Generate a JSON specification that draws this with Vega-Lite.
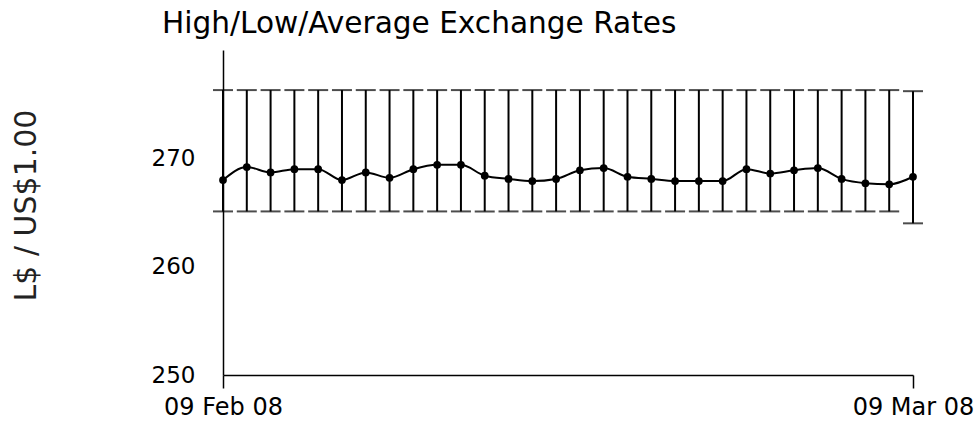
{
  "$schema": "https://vega.github.io/schema/vega-lite/v6.json",
  "autosize": {"type": "none"},
  "width": 690,
  "height": 325,
  "padding": {"left": 223, "top": 50, "right": 67, "bottom": 48},
  "background": "white",
  "config": {
    "view": {"stroke": null},
    "font": "DejaVu Sans",
    "axis": {"grid": false, "domainColor": "black", "domainWidth": 1.5, "labelColor": "black", "titleColor": "#222", "labelFont": "DejaVu Sans", "titleFont": "DejaVu Sans"}
  },
  "title": {
    "text": "High/Low/Average Exchange Rates",
    "anchor": "start",
    "frame": "group",
    "dx": -61,
    "offset": -13,
    "baseline": "alphabetic",
    "fontSize": 29.6,
    "fontWeight": "normal",
    "font": "DejaVu Sans",
    "color": "black"
  },
  "data": {
    "values": [
      {"date": "2008-02-09", "high": 276.3, "low": 265.1, "avg": 268.0},
      {"date": "2008-02-10", "high": 276.3, "low": 265.1, "avg": 269.2},
      {"date": "2008-02-11", "high": 276.3, "low": 265.1, "avg": 268.7},
      {"date": "2008-02-12", "high": 276.3, "low": 265.1, "avg": 269.0},
      {"date": "2008-02-13", "high": 276.3, "low": 265.1, "avg": 269.0},
      {"date": "2008-02-14", "high": 276.3, "low": 265.1, "avg": 268.0},
      {"date": "2008-02-15", "high": 276.3, "low": 265.1, "avg": 268.7},
      {"date": "2008-02-16", "high": 276.3, "low": 265.1, "avg": 268.2},
      {"date": "2008-02-17", "high": 276.3, "low": 265.1, "avg": 269.0},
      {"date": "2008-02-18", "high": 276.3, "low": 265.1, "avg": 269.4},
      {"date": "2008-02-19", "high": 276.3, "low": 265.1, "avg": 269.4},
      {"date": "2008-02-20", "high": 276.3, "low": 265.1, "avg": 268.4},
      {"date": "2008-02-21", "high": 276.3, "low": 265.1, "avg": 268.1},
      {"date": "2008-02-22", "high": 276.3, "low": 265.1, "avg": 267.9},
      {"date": "2008-02-23", "high": 276.3, "low": 265.1, "avg": 268.1},
      {"date": "2008-02-24", "high": 276.3, "low": 265.1, "avg": 268.9},
      {"date": "2008-02-25", "high": 276.3, "low": 265.1, "avg": 269.1},
      {"date": "2008-02-26", "high": 276.3, "low": 265.1, "avg": 268.3},
      {"date": "2008-02-27", "high": 276.3, "low": 265.1, "avg": 268.1},
      {"date": "2008-02-28", "high": 276.3, "low": 265.1, "avg": 267.9},
      {"date": "2008-02-29", "high": 276.3, "low": 265.1, "avg": 267.9},
      {"date": "2008-03-01", "high": 276.3, "low": 265.1, "avg": 267.9},
      {"date": "2008-03-02", "high": 276.3, "low": 265.1, "avg": 269.0},
      {"date": "2008-03-03", "high": 276.3, "low": 265.1, "avg": 268.6},
      {"date": "2008-03-04", "high": 276.3, "low": 265.1, "avg": 268.9},
      {"date": "2008-03-05", "high": 276.3, "low": 265.1, "avg": 269.1},
      {"date": "2008-03-06", "high": 276.3, "low": 265.1, "avg": 268.1},
      {"date": "2008-03-07", "high": 276.3, "low": 265.1, "avg": 267.7},
      {"date": "2008-03-08", "high": 276.3, "low": 265.1, "avg": 267.6},
      {"date": "2008-03-09", "high": 276.2, "low": 264.0, "avg": 268.3}
    ]
  },
  "encoding": {
    "x": {
      "field": "date",
      "type": "temporal",
      "scale": {
        "type": "utc",
        "domain": [
          {"year": 2008, "month": 2, "date": 9, "utc": true},
          {"year": 2008, "month": 3, "date": 9, "utc": true}
        ]
      },
      "axis": {
        "title": null,
        "values": [
          {"year": 2008, "month": 2, "date": 9, "utc": true},
          {"year": 2008, "month": 3, "date": 9, "utc": true}
        ],
        "labelExpr": "utcFormat(datum.value, '%d %b %y')",
        "labelFontSize": 24,
        "labelPadding": 7,
        "tickSize": 13,
        "tickColor": "black",
        "tickWidth": 1.5,
        "labelFlush": false,
        "labelOverlap": false
      }
    }
  },
  "layer": [
    {
      "mark": {"type": "rule", "color": "black", "strokeWidth": 2},
      "encoding": {
        "y": {
          "field": "low",
          "type": "quantitative",
          "scale": {"domain": [250, 280], "nice": false, "zero": false},
          "axis": {
            "title": "L$ / US$1.00",
            "titleFontSize": 30,
            "titleFontWeight": "normal",
            "titleX": -188,
            "titleY": 155,
            "titleAngle": -90,
            "titleBaseline": "alphabetic",
            "titleAnchor": "middle",
            "values": [250, 260, 270],
            "ticks": false,
            "tickSize": 0,
            "labelPadding": 28,
            "labelFontSize": 23
          }
        },
        "y2": {"field": "high"}
      }
    },
    {
      "mark": {"type": "tick", "orient": "horizontal", "color": "black", "size": 20, "thickness": 2},
      "encoding": {"y": {"field": "high", "type": "quantitative"}}
    },
    {
      "mark": {"type": "tick", "orient": "horizontal", "color": "black", "size": 20, "thickness": 2},
      "encoding": {"y": {"field": "low", "type": "quantitative"}}
    },
    {
      "mark": {"type": "line", "color": "black", "strokeWidth": 2, "interpolate": "monotone"},
      "encoding": {"y": {"field": "avg", "type": "quantitative"}}
    },
    {
      "mark": {"type": "point", "shape": "circle", "filled": true, "color": "black", "size": 60, "opacity": 1},
      "encoding": {"y": {"field": "avg", "type": "quantitative"}}
    }
  ]
}
